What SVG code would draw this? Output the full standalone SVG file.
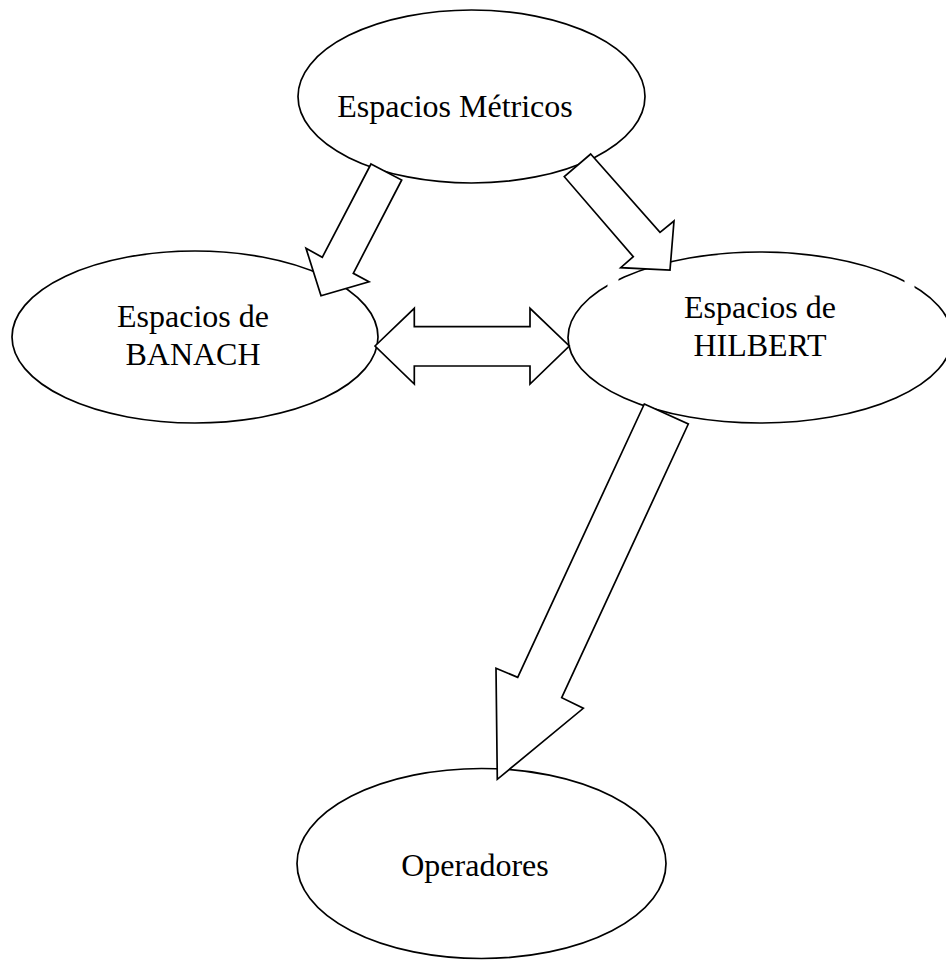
<svg xmlns="http://www.w3.org/2000/svg" width="946" height="960" viewBox="0 0 946 960">
<style>
.node ellipse{fill:#fff;stroke:#000;stroke-width:1.7}
.node text{font-family:"Liberation Serif","Times New Roman",serif;font-size:32px;fill:#000;text-anchor:middle}
.arrow{fill:#fff;stroke:#000;stroke-width:1.7;stroke-linejoin:miter}
.gap{fill:#fff;stroke:none}
</style>
<rect width="946" height="960" fill="#fff"/>
<g id="metricos" class="node">
<ellipse cx="471.5" cy="96.5" rx="173.5" ry="86.5"/>
<text x="455" y="117">Espacios Métricos</text>
</g>
<g id="banach" class="node">
<ellipse cx="195" cy="337" rx="183" ry="86"/>
<text x="193" y="327">Espacios de</text>
<text x="193" y="365">BANACH</text>
</g>
<g id="hilbert" class="node">
<ellipse cx="760" cy="337.5" rx="192" ry="85.5"/>
<text x="760" y="318">Espacios de</text>
<text x="760" y="356">HILBERT</text>
</g>
<g id="operadores" class="node">
<ellipse cx="481.5" cy="863.5" rx="184.5" ry="95"/>
<text x="475" y="876">Operadores</text>
</g>
<g id="gaps">
<rect class="gap" x="607.5" y="275" width="11" height="14"/>
<rect class="gap" x="904.5" y="276" width="10" height="15"/>
</g>
<g id="connectors">
<polygon class="arrow" points="371,164 401.7,180 353.3,273.3 369,281.7 321,295.7 306,248.3 322.3,257.3"/>
<polygon class="arrow" points="590.7,154 660,232.3 674,221 670,270 620.7,267.7 633.3,256.7 564.3,176.7"/>
<polygon class="arrow" points="375,346 414.3,308.3 414.3,326.7 530,326.7 530,308.3 569.3,346 530,384 530,366 414.3,366 414.3,384"/>
<polygon class="arrow" points="644.3,404 688.3,424 561.7,697.7 583.3,708.3 497.3,779.3 496,668.3 517.7,677.3"/>
</g>
</svg>
